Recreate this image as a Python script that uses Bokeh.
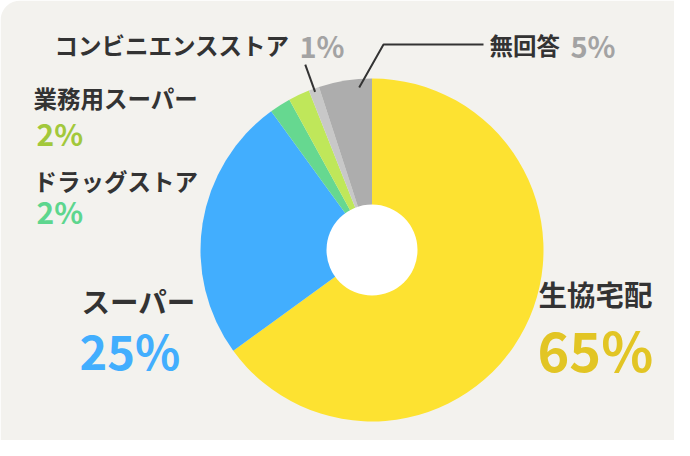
import math
from bokeh.plotting import figure
from bokeh.models import Range1d, ColumnDataSource
from bokeh.core.properties import value
from bokeh.embed import file_html
from bokeh.resources import INLINE

# ---- data ----
categories = ["生協宅配", "スーパー", "ドラッグストア", "業務用スーパー", "コンビニエンスストア", "無回答"]
shares = [65, 25, 2, 2, 1, 5]
slice_colors = ["#FDE231", "#42AEFE", "#66D890", "#BFE75A", "#C8C8C8", "#ADADAD"]
pct_colors = ["#E2C524", "#42AEFE", "#5DD68E", "#A2C83B", "#A3A3A3", "#A3A3A3"]
pct_labels = [f"{v}%" for v in shares]

W, H = 674, 440
FONT = "Noto Sans CJK JP"
DARK = "#333333"

p = figure(width=W, height=H, output_backend="svg", toolbar_location=None,
           x_range=Range1d(0, W), y_range=Range1d(0, H),
           x_axis_type=None, y_axis_type=None, min_border=0,
           background_fill_color="#FFFFFF", border_fill_color="#FFFFFF",
           outline_line_color=None)
p.grid.visible = False

# rounded background panel
p.quad(left=[0], right=[W], bottom=[0], top=[H], fill_color="#F3F2EE",
       line_color=None, border_radius=(20, 0, 0, 0))

cx, cy, R, R_hole = 371.5, 190.5, 171.5, 45.5

total = sum(shares)
cum = 0.0
starts, ends = [], []
for v in shares:
    a0 = math.pi / 2 - 2 * math.pi * cum / total
    cum += v
    a1 = math.pi / 2 - 2 * math.pi * cum / total
    starts.append(a0)
    ends.append(a1)

src = ColumnDataSource(dict(x=[cx] * len(shares), y=[cy] * len(shares),
                            start=starts, end=ends, color=slice_colors))
p.wedge(x="x", y="y", radius=R, start_angle="start", end_angle="end",
        direction="clock", fill_color="color", line_color=None, source=src)
p.circle(x=[cx], y=[cy], radius=R_hole, fill_color="#FFFFFF", line_color=None)

# leader lines (anchored on slice angles)
def pt(idx, frac, r):
    a = starts[idx] + (ends[idx] - starts[idx]) * frac
    return cx + r * math.cos(a), cy + r * math.sin(a)

x0, y0 = pt(4, 0.5, 168)
x1, y1 = pt(4, 0.5, 197)
p.line([x0, x1], [y0, y1], line_color=DARK, line_width=2)
x0, y0 = pt(5, 0.75, 163)
p.line([x0, 383, 483], [y0, 396, 396], line_color=DARK, line_width=2)

def label(x, y, txt, color, size, bold=True):
    p.text(x=[x], y=[y], text=[txt], text_color=color, text_font=value(FONT),
           text_font_size=f"{size}px", text_font_style="bold" if bold else "normal",
           text_align="left", text_baseline="middle")

# 生協宅配
label(538, 147, categories[0], DARK, 28.5)
label(537, 92, pct_labels[0], pct_colors[0], 54)
# スーパー
label(81, 140.5, categories[1], DARK, 28.5)
label(79, 91, pct_labels[1], pct_colors[1], 47)
# ドラッグストア
label(33, 260, categories[2], DARK, 23.5)
label(36, 229.5, pct_labels[2], pct_colors[2], 30)
# 業務用スーパー
label(33, 343, categories[3], DARK, 23.5)
label(36, 307.5, pct_labels[3], pct_colors[3], 30)
# コンビニエンスストア
label(54, 396, categories[4], DARK, 23.5)
label(299, 396, pct_labels[4], pct_colors[4], 29)
# 無回答
label(489, 396, categories[5], DARK, 23.5)
label(570, 396, pct_labels[5], pct_colors[5], 29)

open("out.html", "w").write(file_html(p, INLINE))
